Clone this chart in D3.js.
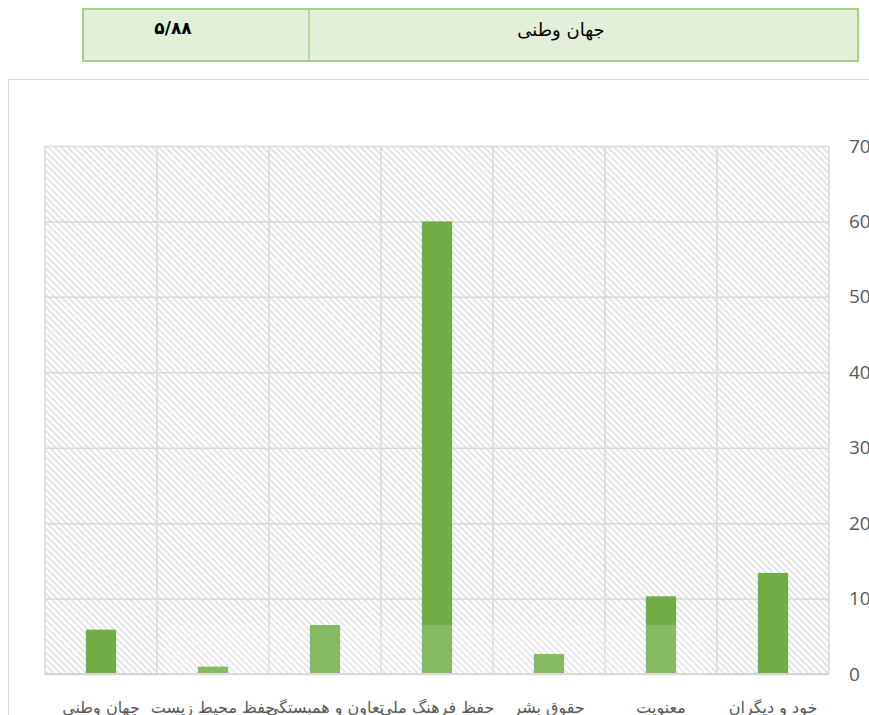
<!DOCTYPE html>
<html>
<head>
<meta charset="utf-8">
<script src="https://cdn.jsdelivr.net/npm/d3@7/dist/d3.min.js"></script>
<style>
    body { margin: 0; background: #fff; overflow: hidden; }
    svg { display: block; }
</style>
</head>
<body>
<div id="chart"></div>
<script>
// data is listed in sheet order (right to left on the chart)
var categories = ["خود و دیگران", "معنویت", "حقوق بشر", "حفظ فرهنگ ملی", "تعاون و همبستگی", "حفظ محیط زیست", "جهان وطنی"];
var values = [13.4, 10.3, 2.65, 60, 6.5, 0.98, 5.88];
var yTicks = [0, 10, 20, 30, 40, 50, 60, 70];
var tableLabel = "جهان وطنی";

var width = 869, height = 715;
var plot = {left: 45, right: 829, top: 146, bottom: 674};

function toPersian(n) {
    var digits = "۰۱۲۳۴۵۶۷۸۹";
    return n.toFixed(2).replace(".", "/").replace(/[0-9]/g, function (c) {
        return digits[+c];
    });
}

var svg = d3.select("#chart").append("svg")
    .attr("width", width)
    .attr("height", height);

// hatch for plot background
var defs = svg.append("defs");
var pat = defs.append("pattern")
    .attr("id", "hatch")
    .attr("patternUnits", "userSpaceOnUse")
    .attr("width", 5)
    .attr("height", 4.6)
    .attr("patternTransform", "rotate(45)");
pat.append("rect").attr("width", 5).attr("height", 4.6).attr("fill", "#fff");
pat.append("rect").attr("width", 5).attr("height", 2).attr("fill", "#e3e3e3");

// top table row
var table = svg.append("g");
table.append("rect")
    .attr("x", 83).attr("y", 9).attr("width", 775).attr("height", 52)
    .attr("fill", "#e2efd9").attr("stroke", "#a8d08d").attr("stroke-width", 2);
table.append("line")
    .attr("x1", 309).attr("x2", 309).attr("y1", 9).attr("y2", 61)
    .attr("stroke", "#a8d08d").attr("stroke-width", 1.5);
table.append("text")
    .attr("x", 173).attr("y", 34)
    .attr("text-anchor", "middle")
    .style("font-family", "DejaVu Sans")
    .style("font-weight", "bold")
    .style("font-size", "17px")
    .text(toPersian(values[categories.indexOf(tableLabel)]));
table.append("text")
    .attr("x", 561).attr("y", 36)
    .attr("text-anchor", "middle")
    .attr("direction", "rtl")
    .style("font-family", "DejaVu Sans")
    .style("font-size", "18px")
    .text(tableLabel);

// chart frame
svg.append("rect")
    .attr("x", 8.5).attr("y", 79.5).attr("width", 900).attr("height", 700)
    .attr("fill", "#fff").attr("stroke", "#d9d9d9");

var x = d3.scaleBand()
    .domain(categories)
    .range([plot.right, plot.left]);

var y = d3.scaleLinear()
    .domain([0, 70])
    .range([plot.bottom, plot.top]);

svg.append("rect")
    .attr("x", plot.left).attr("y", plot.top)
    .attr("width", plot.right - plot.left).attr("height", plot.bottom - plot.top)
    .attr("fill", "url(#hatch)");

// horizontal gridlines
svg.append("g")
    .attr("transform", "translate(" + plot.left + ",0)")
    .call(d3.axisLeft(y).tickValues(yTicks).tickSize(-(plot.right - plot.left)).tickFormat(""))
    .call(function (g) {
        g.select(".domain").remove();
        g.selectAll(".tick line").attr("stroke", "#d9d9d9").attr("stroke-width", 1.5);
    });

// vertical gridlines at category edges
var edges = categories.map(function (c) { return x(c); }).concat([x(categories[0]) + x.bandwidth()]);
svg.append("g").selectAll("line")
    .data(edges)
    .enter()
    .append("line")
    .attr("x1", function (d) { return d; })
    .attr("x2", function (d) { return d; })
    .attr("y1", plot.top)
    .attr("y2", plot.bottom)
    .attr("stroke", "#d9d9d9")
    .attr("stroke-width", 1.5);

// bars
var barW = x.bandwidth() * 0.27;
svg.append("g").selectAll("rect")
    .data(values)
    .enter()
    .append("rect")
    .attr("x", function (d, i) { return x(categories[i]) + (x.bandwidth() - barW) / 2; })
    .attr("y", function (d) { return y(d); })
    .attr("width", barW)
    .attr("height", function (d) { return y(0) - y(d); })
    .attr("fill", "#70ad47");

// baseline
svg.append("line")
    .attr("x1", plot.left).attr("x2", plot.right)
    .attr("y1", y(0)).attr("y2", y(0))
    .attr("stroke", "#d4d4d4").attr("stroke-width", 2);

// faint watermark wash
svg.append("rect")
    .attr("x", 165).attr("y", 625).attr("width", 540).attr("height", 90)
    .attr("fill", "#fff").attr("opacity", 0.15);

// value axis on the right
svg.append("g")
    .attr("transform", "translate(849,0)")
    .call(d3.axisRight(y).tickValues(yTicks).tickSize(0).tickPadding(0))
    .call(function (g) {
        g.select(".domain").remove();
        g.selectAll("text")
            .attr("fill", "#595959")
            .style("font-family", "Open Sans")
            .style("font-size", "19px");
    });

// category axis
svg.append("g")
    .attr("transform", "translate(0," + plot.bottom + ")")
    .call(d3.axisBottom(x).tickSize(0).tickPadding(0))
    .call(function (g) {
        g.select(".domain").remove();
        g.selectAll("text")
            .attr("y", 39)
            .attr("dy", 0)
            .attr("direction", "rtl")
            .attr("fill", "#595959")
            .style("font-family", "DejaVu Sans")
            .style("font-size", "16px");
    });
</script>
</body>
</html>
